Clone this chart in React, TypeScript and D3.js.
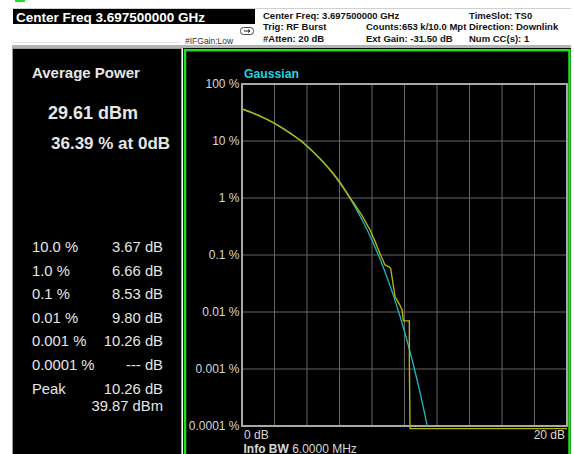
import React from "react";
import * as d3 from "d3";

// ---- data ----
const xTicksDb: number[] = [0, 2, 4, 6, 8, 10, 12, 14, 16, 18, 20];
const yTicksPct: number[] = [100, 10, 1, 0.1, 0.01, 0.001, 0.0001];
const yTickLabels: string[] = ["100 %", "10 %", "1 %", "0.1 %", "0.01 %", "0.001 %", "0.0001 %"];

// Gaussian reference trace (dB, %)
const gaussDb: number[] = [0, 0.5, 1, 1.5, 2, 2.5, 3, 3.5, 4, 4.5, 5, 5.5, 6, 6.5, 7, 7.5, 8, 8.5, 9, 9.5, 10, 10.5, 11, 11.4];
const gaussPct: number[] = [36.79, 32.56, 28.4, 24.35, 20.5, 16.9, 13.6, 10.66, 8.11, 5.97, 4.23, 2.878, 1.867, 1.148, 0.666, 0.361, 0.182, 0.0843, 0.0355, 0.01347, 0.00454, 0.00134, 0.00034, 0.0001];

// Measured CCDF trace (dB, %)
const measDb: number[] = [0, 0.5, 1, 1.5, 2, 2.5, 3, 3.67, 4, 4.5, 5, 5.5, 6, 6.66, 7, 7.37, 7.88, 8.2, 8.53, 8.8, 9.05, 9.15, 9.42, 9.68, 9.86, 9.93, 10.3, 10.3, 10.34, 20];
const measPct: number[] = [36.39, 32.3, 28.1, 24.1, 20.3, 16.7, 13.4, 10.0, 8.2, 6.0, 4.3, 2.95, 1.95, 1.0, 0.72, 0.5, 0.275, 0.17, 0.1, 0.067, 0.062, 0.058, 0.0185, 0.0138, 0.0108, 0.007, 0.007, 0.00127, 0.00009, 0.00009];

const statLabels: string[] = ["10.0 %", "1.0 %", "0.1 %", "0.01 %", "0.001 %", "0.0001 %", "Peak"];
const statValues: string[] = ["3.67 dB", "6.66 dB", "8.53 dB", "9.80 dB", "10.26 dB", "--- dB", "10.26 dB"];
const peakDbm = "39.87 dBm";
const avgPower = "29.61 dBm";
const avgPct = "36.39 % at 0dB";

const FONT = "'Liberation Sans', Arial, Helvetica, sans-serif";

export default function App() {
  const x = d3.scaleLinear().domain([0, 20]).range([242, 567]);
  const y = d3.scaleLog().domain([0.0001, 100]).range([426, 84]);

  const gaussData = gaussDb.map((d, i) => [d, gaussPct[i]] as [number, number]);
  const measData = measDb.map((d, i) => [d, measPct[i]] as [number, number]);

  const gaussLine = d3
    .line<[number, number]>()
    .x((d) => x(d[0]))
    .y((d) => y(d[1]))
    .curve(d3.curveMonotoneX);
  const measLine = d3
    .line<[number, number]>()
    .x((d) => x(d[0]))
    .y((d) => y(d[1]))
    .curve(d3.curveLinear);

  const rowY = (i: number) => 252 + i * 23.6;
  const textCol = "#e6e6e6";

  return (
    <svg
      width={574}
      height={454}
      style={{ position: "absolute", left: 0, top: 0 }}
      fontFamily={FONT}
    >
      <rect x={0} y={0} width={574} height={454} fill="#ffffff" />
      {/* header */}
      <rect x={15} y={0} width={10} height={2} fill="#22dd22" />
      <line x1={12} x2={571} y1={8.5} y2={8.5} stroke="#d0d0d0" />
      <rect x={13} y={9} width={242} height={15} fill="#000" />
      <text x={16} y={21.5} fill="#fff" fontSize={13.5} fontWeight="bold">
        Center Freq 3.697500000 GHz
      </text>
      <line x1={13} x2={180} y1={42.5} y2={42.5} stroke="#e4e4e4" />
      <rect x={240.5} y={27.5} width={13} height={7} rx={3} fill="#fff" stroke="#444" />
      <path d="M244 31 L250 31 M248 29.5 L250 31 L248 32.5" stroke="#222" fill="none" />
      <text x={185} y={43.5} fill="#333" fontSize={8.5}>
        #IFGain:Low
      </text>
      <g fill="#111" fontSize={9.5} fontWeight="bold">
        <text x={263} y={18.5}>Center Freq: 3.697500000 GHz</text>
        <text x={263} y={30}>Trig: RF Burst</text>
        <text x={263} y={41.5}>#Atten: 20 dB</text>
        <text x={366} y={30}>Counts:653 k/10.0 Mpt</text>
        <text x={366} y={41.5}>Ext Gain: -31.50 dB</text>
        <text x={469} y={18.5}>TimeSlot: TS0</text>
        <text x={469} y={30}>Direction: Downlink</text>
        <text x={469} y={41.5}>Num CC(s): 1</text>
      </g>
      <rect x={12} y={45} width={559} height={3} fill="#b4b4b4" />

      {/* left panel */}
      <rect x={12.5} y={48.5} width={169} height={420} fill="#000" stroke="#9a9a9a" />
      <text x={32} y={78} fill={textCol} fontSize={15} fontWeight="bold">
        Average Power
      </text>
      <text x={48} y={118.5} fill={textCol} fontSize={18} fontWeight="bold">
        {avgPower}
      </text>
      <text x={51} y={149} fill={textCol} fontSize={17} fontWeight="bold">
        {avgPct}
      </text>
      <g fill={textCol} fontSize={14.8}>
        {statLabels.map((s, i) => (
          <text key={"l" + i} x={32} y={rowY(i)}>
            {s}
          </text>
        ))}
        {statValues.map((s, i) => (
          <text key={"v" + i} x={163} y={rowY(i)} textAnchor="end">
            {s}
          </text>
        ))}
        <text x={163} y={rowY(6) + 17.6} textAnchor="end">
          {peakDbm}
        </text>
      </g>

      {/* chart panel */}
      <rect x={183} y={48} width={388} height={420} fill="#000" />
      <rect x={185} y={50.2} width={384.5} height={420} fill="none" stroke="#1ee01e" strokeWidth={2.5} />

      {/* grid */}
      <g stroke="#666" strokeWidth={1}>
        {xTicksDb.slice(1, -1).map((t) => (
          <line key={"gx" + t} x1={x(t)} x2={x(t)} y1={y(100)} y2={y(0.0001)} />
        ))}
        {yTicksPct.slice(1, -1).map((t) => (
          <line key={"gy" + t} x1={x(0)} x2={x(20)} y1={y(t)} y2={y(t)} />
        ))}
      </g>
      <rect
        x={x(0)}
        y={y(100)}
        width={x(20) - x(0)}
        height={y(0.0001) - y(100)}
        fill="none"
        stroke="#a8a8a8"
        strokeWidth={2}
      />

      {/* y tick labels */}
      <g fill="#d8d8d8" fontSize={12} textAnchor="end">
        {yTicksPct.map((t, i) => (
          <text key={"yl" + t} x={239.5} y={y(t) + 4.3}>
            {yTickLabels[i]}
          </text>
        ))}
      </g>
      <text x={244} y={438.5} fill="#d8d8d8" fontSize={12}>
        {xTicksDb[0]} dB
      </text>
      <text x={565} y={438.5} fill="#d8d8d8" fontSize={12} textAnchor="end">
        {xTicksDb[xTicksDb.length - 1]} dB
      </text>
      <text x={243.5} y={452.5} fill="#d8d8d8" fontSize={12}>
        <tspan fontWeight="bold">Info BW</tspan> 6.0000 MHz
      </text>
      <text x={244} y={78} fill="#22d3e0" fontSize={12.2} fontWeight="bold">
        Gaussian
      </text>

      {/* traces */}
      <path d={gaussLine(gaussData) || ""} fill="none" stroke="#1fb8c8" strokeWidth={1.3} />
      <path d={measLine(measData) || ""} fill="none" stroke="#b8b400" strokeWidth={1.4} />
    </svg>
  );
}
